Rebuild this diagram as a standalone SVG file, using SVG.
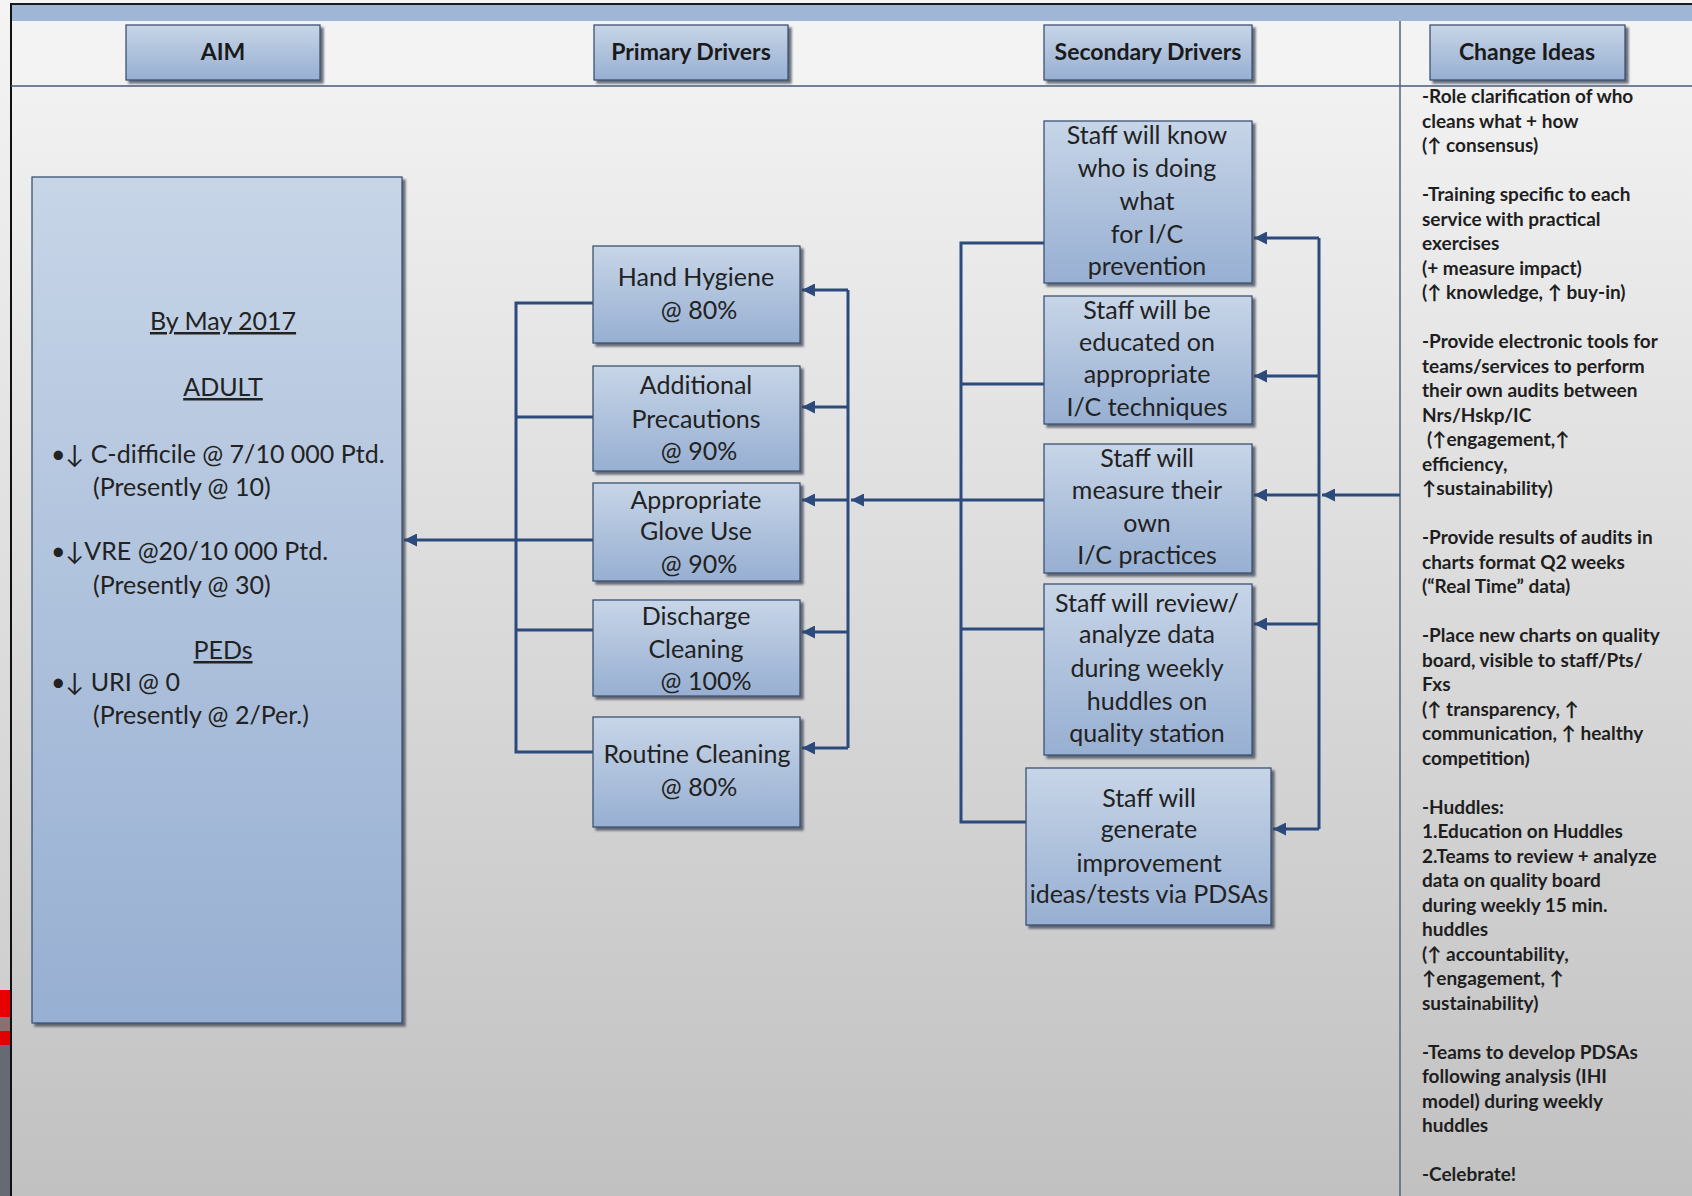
<svg xmlns="http://www.w3.org/2000/svg" width="1692" height="1196" viewBox="0 0 1692 1196">
<defs>
<linearGradient id="bg" x1="0" y1="0" x2="0" y2="1">
<stop offset="0" stop-color="#f5f5f5"/>
<stop offset="1" stop-color="#c1c1c1"/>
</linearGradient>
<linearGradient id="boxGrad" x1="0" y1="0" x2="0" y2="1">
<stop offset="0" stop-color="#c7d5e7"/>
<stop offset="1" stop-color="#97afd2"/>
</linearGradient>
<linearGradient id="strip" x1="0" y1="0" x2="0" y2="1">
<stop offset="0" stop-color="#f4f4f4"/>
<stop offset="1" stop-color="#cfcfcf"/>
</linearGradient>
<filter id="shadow" x="-5%" y="-5%" width="115%" height="115%">
<feDropShadow dx="3" dy="3" stdDeviation="1.2" flood-color="#3a4250" flood-opacity="0.75"/>
</filter>
<marker id="arrow" viewBox="0 0 10 10" refX="10" refY="5" markerUnits="userSpaceOnUse" markerWidth="14" markerHeight="13" orient="auto">
<path d="M0,0 L10,5 L0,10 z" fill="#2c4a7c"/>
</marker>
<style>
.box{fill:url(#boxGrad);stroke:#3c5272;stroke-width:1.3;filter:url(#shadow)}
.hdr{font-family:Lato,"Liberation Sans",sans-serif;font-weight:bold;font-size:23px;fill:#1a1a1a;text-anchor:middle}
.nt{font-family:Lato,"Liberation Sans",sans-serif;font-size:25px;fill:#222;text-anchor:middle}
.aim{font-family:Lato,"Liberation Sans",sans-serif;font-size:25px;fill:#222}
.u{text-decoration:underline}
.ci{font-family:Lato,"Liberation Sans",sans-serif;font-weight:bold;font-size:19px;fill:#1e1e1e}
.con{fill:none;stroke:#2c4a7c;stroke-width:3}
.arr{fill:none;stroke:#2c4a7c;stroke-width:3;marker-end:url(#arrow)}
</style>
</defs>

<!-- background -->
<rect x="0" y="0" width="1692" height="1196" fill="url(#bg)"/>
<rect x="0" y="0" width="11" height="990" fill="url(#strip)"/>
<rect x="0" y="990" width="11" height="27" fill="#e80000"/>
<rect x="0" y="1017" width="11" height="14" fill="#8a7070"/>
<rect x="0" y="1031" width="11" height="14" fill="#e00000"/>
<rect x="0" y="1045" width="11" height="151" fill="#656a73"/>
<rect x="11" y="5" width="1681" height="16" fill="#9fb6d6"/>
<rect x="11" y="21" width="1681" height="65" fill="#f3f3f3"/>
<line x1="10" y1="4" x2="1692" y2="4" stroke="#1a1a1a" stroke-width="2"/>
<line x1="11" y1="4" x2="11" y2="1196" stroke="#111" stroke-width="2"/>
<line x1="11" y1="86" x2="1692" y2="86" stroke="#4a5a78" stroke-width="1.5"/>
<line x1="1400" y1="21" x2="1400" y2="1196" stroke="#55627a" stroke-width="1.5"/>

<!-- headers -->
<g id="hdr-aim"><rect class="box" x="126" y="25" width="194" height="55"/><text class="hdr" x="223" y="60">AIM</text></g>
<g id="hdr-primary"><rect class="box" x="594" y="25" width="194" height="55"/><text class="hdr" x="691" y="60">Primary Drivers</text></g>
<g id="hdr-secondary"><rect class="box" x="1044" y="25" width="208" height="55"/><text class="hdr" x="1148" y="60">Secondary Drivers</text></g>
<g id="hdr-change"><rect class="box" x="1430" y="25" width="195" height="55"/><text class="hdr" x="1527" y="60">Change Ideas</text></g>

<!-- connectors -->
<g id="connectors">
<path class="con" d="M593,303 H516 V752 H593"/>
<path class="con" d="M593,417 H516"/>
<path class="con" d="M593,630 H516"/>
<path class="arr" d="M593,540 H404"/>
<path class="con" d="M848,290 V748"/>
<path class="arr" d="M848,290 H802"/>
<path class="arr" d="M848,407 H802"/>
<path class="arr" d="M848,500 H802"/>
<path class="arr" d="M848,632 H802"/>
<path class="arr" d="M848,748 H802"/>
<path class="arr" d="M961,500 H851"/>
<path class="con" d="M1044,243 H961 V822 H1026"/>
<path class="con" d="M1044,384 H961"/>
<path class="con" d="M1044,629 H961"/>
<path class="con" d="M1044,500 H961"/>
<path class="con" d="M1319,238 V829"/>
<path class="arr" d="M1319,238 H1254"/>
<path class="arr" d="M1319,376 H1254"/>
<path class="arr" d="M1319,495 H1254"/>
<path class="arr" d="M1319,624 H1254"/>
<path class="arr" d="M1319,829 H1273"/>
<path class="arr" d="M1400,495 H1322"/>
</g>

<!-- AIM -->
<g id="aim">
<rect class="box" x="32" y="177" width="370" height="846"/>
<text class="aim u" x="223" y="330" text-anchor="middle">By May 2017</text>
<text class="aim u" x="223" y="396" text-anchor="middle">ADULT</text>
<text class="aim" x="51" y="463">•↓ C-difficile @ 7/10 000 Ptd.</text>
<text class="aim" x="93" y="496">(Presently @ 10)</text>
<text class="aim" x="51" y="560">•↓VRE @20/10 000 Ptd.</text>
<text class="aim" x="93" y="594">(Presently @ 30)</text>
<text class="aim u" x="223" y="659" text-anchor="middle">PEDs</text>
<text class="aim" x="51" y="691">•↓ URI @ 0</text>
<text class="aim" x="93" y="724">(Presently @ 2/Per.)</text>
</g>

<!-- primary drivers -->
<g id="p-hand">
<rect class="box" x="593" y="246" width="207" height="97"/>
<text class="nt"><tspan x="696" y="286">Hand Hygiene</tspan><tspan x="699" y="319">@ 80%</tspan></text>
</g>
<g id="p-additional">
<rect class="box" x="593" y="366" width="207" height="105"/>
<text class="nt"><tspan x="696" y="394">Additional</tspan><tspan x="696" y="428">Precautions</tspan><tspan x="699" y="460">@ 90%</tspan></text>
</g>
<g id="p-glove">
<rect class="box" x="593" y="483" width="207" height="98"/>
<text class="nt"><tspan x="696" y="509">Appropriate</tspan><tspan x="696" y="540">Glove Use</tspan><tspan x="699" y="573">@ 90%</tspan></text>
</g>
<g id="p-discharge">
<rect class="box" x="593" y="600" width="207" height="96"/>
<text class="nt"><tspan x="696" y="625">Discharge</tspan><tspan x="696" y="658">Cleaning</tspan><tspan x="706" y="690">@ 100%</tspan></text>
</g>
<g id="p-routine">
<rect class="box" x="593" y="717" width="207" height="110"/>
<text class="nt"><tspan x="697" y="763">Routine Cleaning</tspan><tspan x="699" y="796">@ 80%</tspan></text>
</g>

<!-- secondary drivers -->
<g id="s-know">
<rect class="box" x="1044" y="121" width="208" height="162"/>
<text class="nt"><tspan x="1147" y="144">Staff will know</tspan><tspan x="1147" y="177">who is doing</tspan><tspan x="1147" y="210">what</tspan><tspan x="1147" y="243">for I/C</tspan><tspan x="1147" y="275">prevention</tspan></text>
</g>
<g id="s-educated">
<rect class="box" x="1044" y="296" width="208" height="128"/>
<text class="nt"><tspan x="1147" y="319">Staff will be</tspan><tspan x="1147" y="351">educated on</tspan><tspan x="1147" y="383">appropriate</tspan><tspan x="1147" y="416">I/C techniques</tspan></text>
</g>
<g id="s-measure">
<rect class="box" x="1044" y="444" width="208" height="129"/>
<text class="nt"><tspan x="1147" y="467">Staff will</tspan><tspan x="1147" y="499">measure their</tspan><tspan x="1147" y="532">own</tspan><tspan x="1147" y="564">I/C practices</tspan></text>
</g>
<g id="s-review">
<rect class="box" x="1044" y="584" width="208" height="171"/>
<text class="nt"><tspan x="1147" y="612">Staff will review/</tspan><tspan x="1147" y="643">analyze data</tspan><tspan x="1147" y="677">during weekly</tspan><tspan x="1147" y="710">huddles on</tspan><tspan x="1147" y="742">quality station</tspan></text>
</g>
<g id="s-generate">
<rect class="box" x="1026" y="768" width="245" height="157"/>
<text class="nt"><tspan x="1149" y="807">Staff will</tspan><tspan x="1149" y="838">generate</tspan><tspan x="1149" y="872">improvement</tspan><tspan x="1149" y="903">ideas/tests via PDSAs</tspan></text>
</g>

<!-- change ideas -->
<g id="change-ideas">
<text class="ci">
<tspan x="1422" y="103">-Role clarification of who</tspan>
<tspan x="1422" y="127.5">cleans what + how</tspan>
<tspan x="1422" y="152">(↑ consensus)</tspan>
<tspan x="1422" y="201">-Training specific to each</tspan>
<tspan x="1422" y="225.5">service with practical</tspan>
<tspan x="1422" y="250">exercises</tspan>
<tspan x="1422" y="274.5">(+ measure impact)</tspan>
<tspan x="1422" y="299">(↑ knowledge, ↑ buy-in)</tspan>
<tspan x="1422" y="348">-Provide electronic tools for</tspan>
<tspan x="1422" y="372.5">teams/services to perform</tspan>
<tspan x="1422" y="397">their own audits between</tspan>
<tspan x="1422" y="421.5">Nrs/Hskp/IC</tspan>
<tspan x="1427" y="446">(↑engagement,↑</tspan>
<tspan x="1422" y="470.5">efficiency,</tspan>
<tspan x="1422" y="495">↑sustainability)</tspan>
<tspan x="1422" y="544">-Provide results of audits in</tspan>
<tspan x="1422" y="568.5">charts format Q2 weeks</tspan>
<tspan x="1422" y="593">(“Real Time” data)</tspan>
<tspan x="1422" y="642">-Place new charts on quality</tspan>
<tspan x="1422" y="666.5">board, visible to staff/Pts/</tspan>
<tspan x="1422" y="691">Fxs</tspan>
<tspan x="1422" y="715.5">(↑ transparency, ↑</tspan>
<tspan x="1422" y="740">communication, ↑ healthy</tspan>
<tspan x="1422" y="764.5">competition)</tspan>
<tspan x="1422" y="813.5">-Huddles:</tspan>
<tspan x="1422" y="838">1.Education on Huddles</tspan>
<tspan x="1422" y="862.5">2.Teams to review + analyze</tspan>
<tspan x="1422" y="887">data on quality board</tspan>
<tspan x="1422" y="911.5">during weekly 15 min.</tspan>
<tspan x="1422" y="936">huddles</tspan>
<tspan x="1422" y="960.5">(↑ accountability,</tspan>
<tspan x="1422" y="985">↑engagement, ↑</tspan>
<tspan x="1422" y="1009.5">sustainability)</tspan>
<tspan x="1422" y="1058.5">-Teams to develop PDSAs</tspan>
<tspan x="1422" y="1083">following analysis (IHI</tspan>
<tspan x="1422" y="1107.5">model) during weekly</tspan>
<tspan x="1422" y="1132">huddles</tspan>
<tspan x="1422" y="1181">-Celebrate!</tspan>
</text>
</g>
</svg>
